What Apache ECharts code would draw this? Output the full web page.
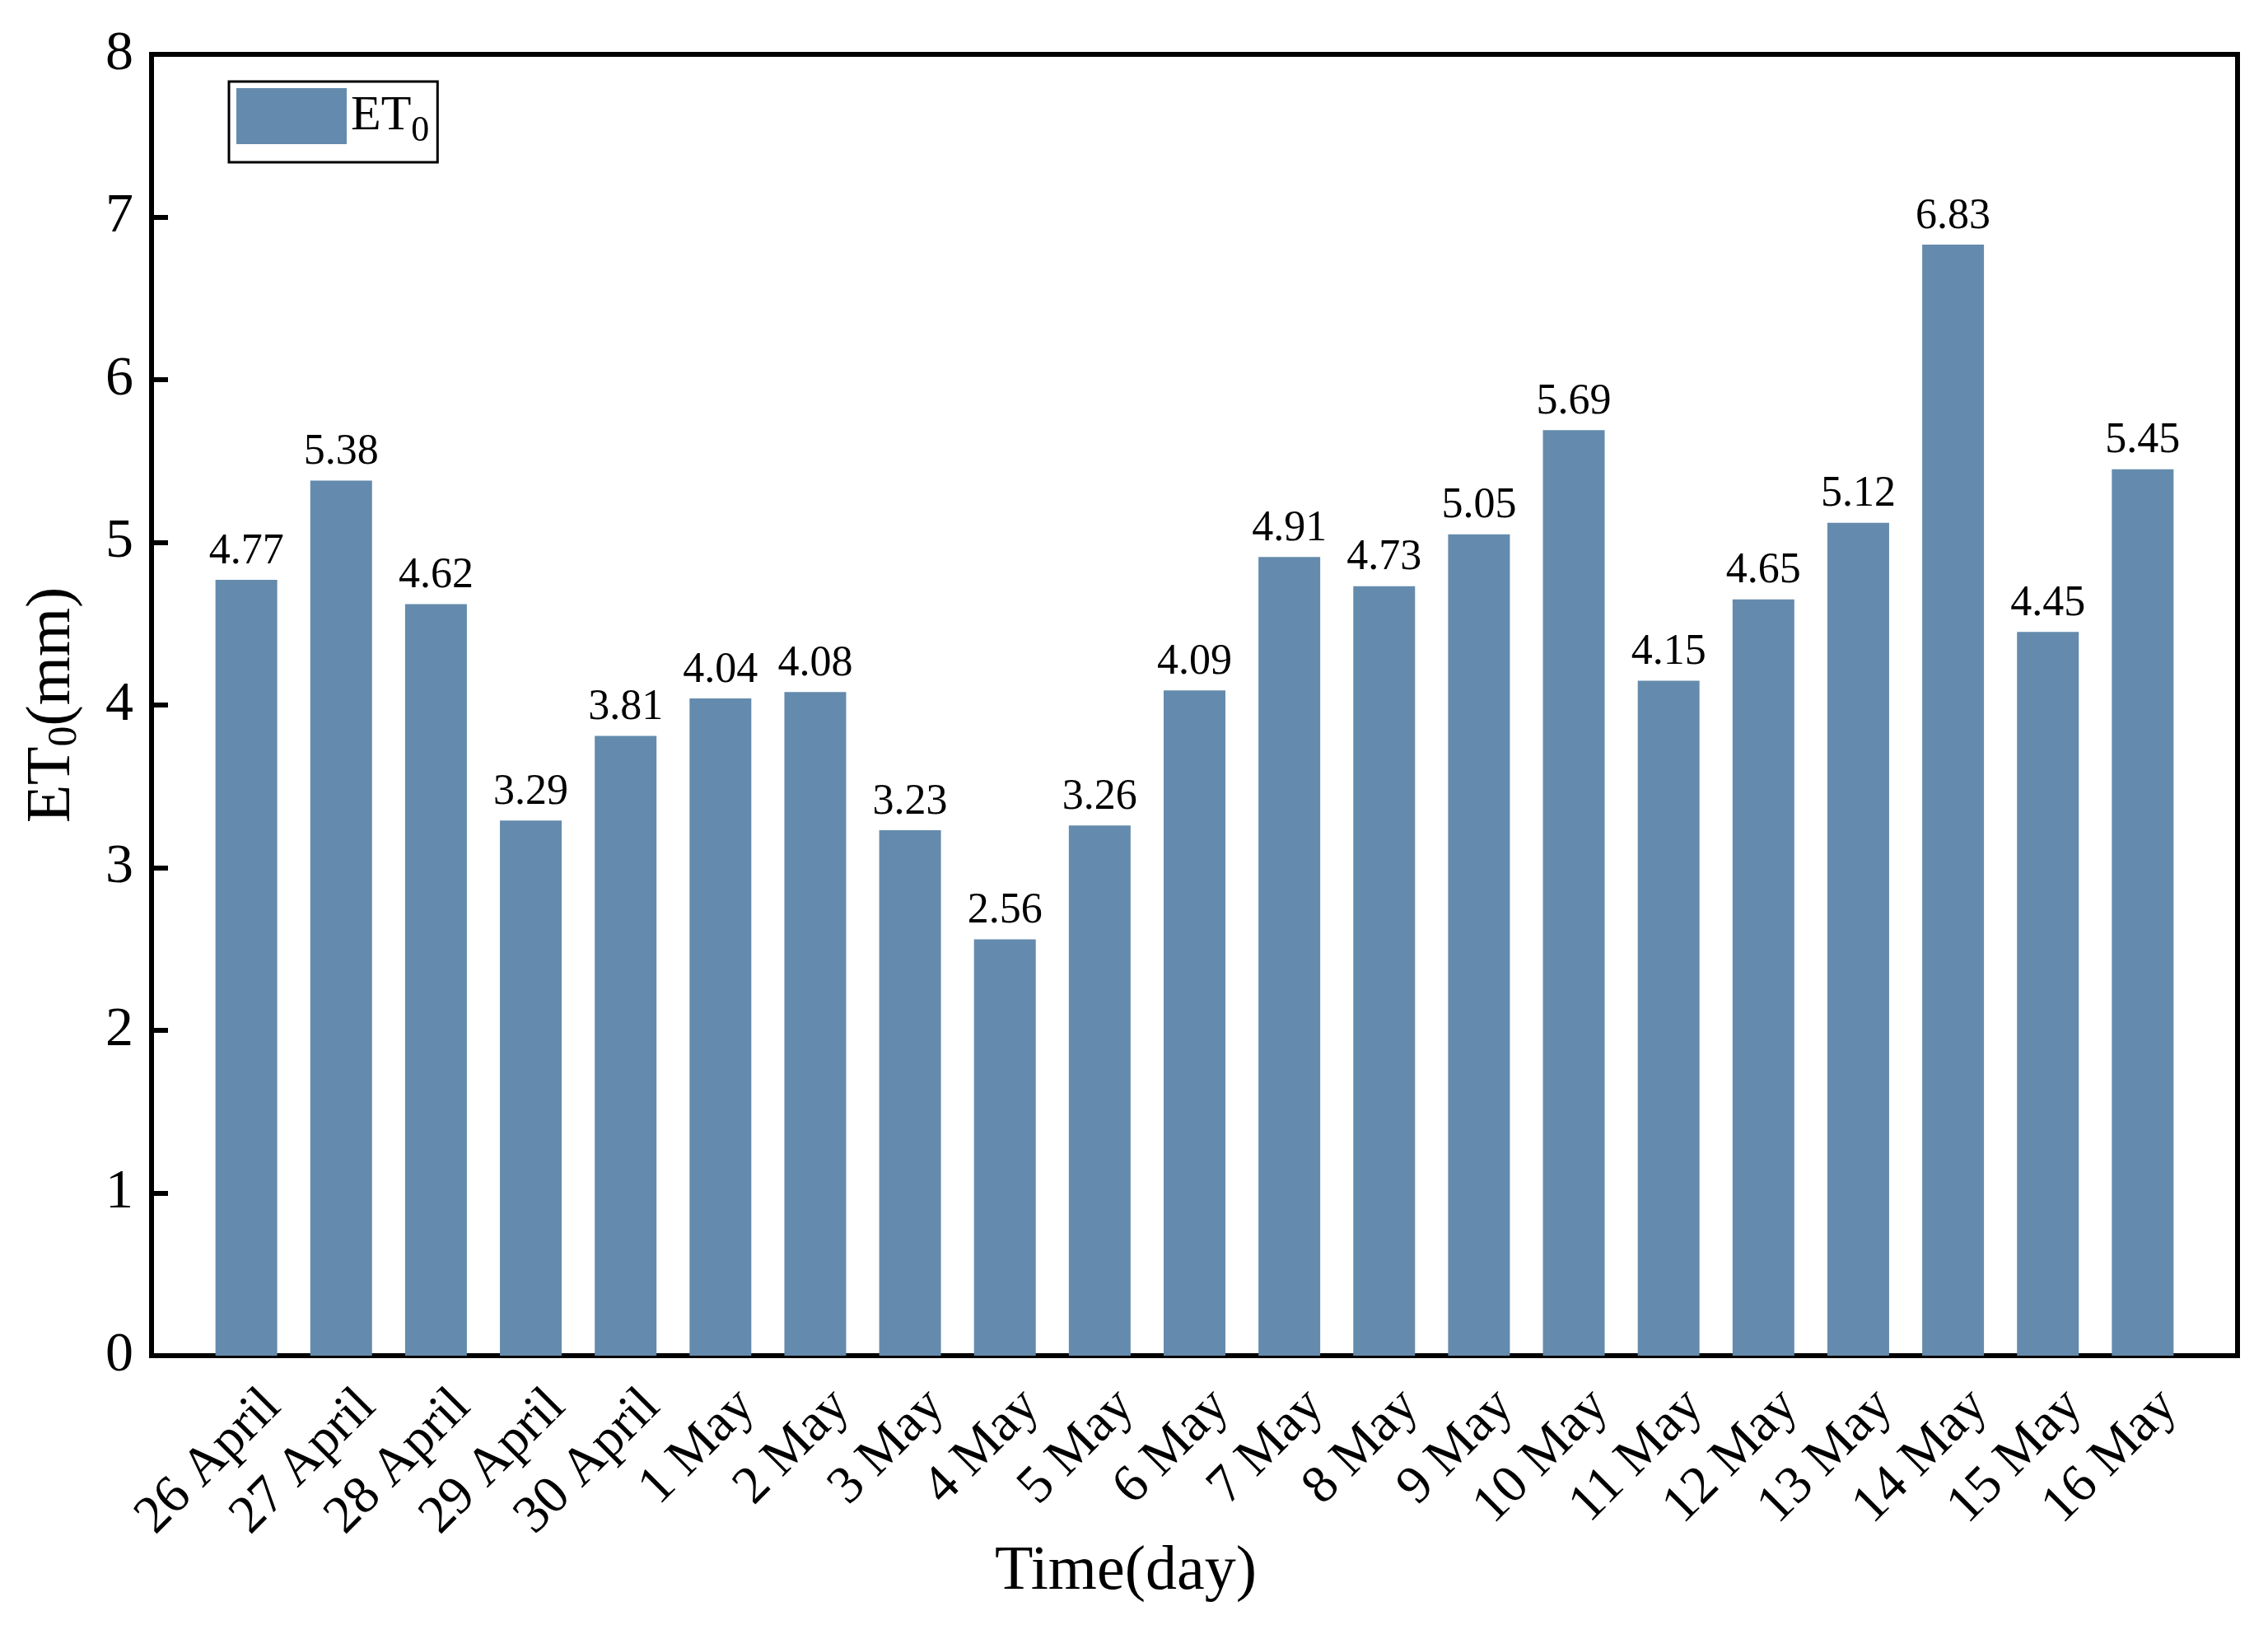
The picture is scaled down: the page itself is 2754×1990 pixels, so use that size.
<!DOCTYPE html>
<html>
<head>
<meta charset="utf-8">
<script src="https://cdn.jsdelivr.net/npm/echarts@6/dist/echarts.min.js"></script>
<style>html,body{margin:0;padding:0;background:#fff;}#c{width:2754px;height:1990px;}</style>
</head>
<body>
<div id="c"></div>
<script>
const days = ['26 April','27 April','28 April','29 April','30 April','1 May','2 May','3 May','4 May','5 May','6 May','7 May','8 May','9 May','10 May','11 May','12 May','13 May','14 May','15 May','16 May'];
const et0 = [4.77,5.38,4.62,3.29,3.81,4.04,4.08,3.23,2.56,3.26,4.09,4.91,4.73,5.05,5.69,4.15,4.65,5.12,6.83,4.45,5.45];
const yTicks = [0,1,2,3,4,5,6,7,8];

const FONT = '"Liberation Serif", "Times New Roman", serif';
const axisCats = [''].concat(days, ['']);
const seriesData = [null].concat(et0, [null]);

const chart = echarts.init(document.getElementById('c'));
chart.setOption({
  backgroundColor: '#fff',
  animation: false,
  textStyle: {fontFamily: FONT, color: '#000'},
  grid: {left: 184, right: 37, top: 66, bottom: 344, show: true, borderColor: '#000', borderWidth: 6, containLabel: false},
  title: {
    text: 'Time(day)', left: 1362, top: 1866, textAlign: 'center',
    textStyle: {fontFamily: FONT, fontSize: 76, fontWeight: 'normal', color: '#000'}
  },
  legend: {
    left: 278, top: 99, orient: 'vertical',
    itemWidth: 134, itemHeight: 68, itemGap: 0,
    padding: [8, 10, 16, 9],
    borderColor: '#000', borderWidth: 3,
    icon: 'rect',
    formatter: function(){ return '{a|ET}{s|0}'; },
    textStyle: {
      fontFamily: FONT, color: '#000', padding: [0,0,0,0],
      rich: {
        a: {fontFamily: FONT, fontSize: 60, color: '#000'},
        s: {fontFamily: FONT, fontSize: 44, color: '#000', padding: [36,0,0,0]}
      }
    },
    data: ['ET0']
  },
  xAxis: {
    type: 'category', data: axisCats, boundaryGap: false,
    axisLine: {show: true, lineStyle: {color: '#000', width: 6}},
    axisTick: {show: false},
    splitLine: {show: false},
    axisLabel: {
      rotate: 45, interval: 0, margin: 20, fontSize: 65, lineHeight: 90, fontFamily: FONT, color: '#000',
      align: 'right', verticalAlign: 'top'
    }
  },
  yAxis: {
    type: 'value', min: 0, max: 8, interval: 1,
    axisLine: {show: true, lineStyle: {color: '#000', width: 6}},
    axisTick: {show: true, inside: true, length: 20, lineStyle: {color: '#000', width: 6}},
    splitLine: {show: false},
    axisLabel: {fontSize: 68, fontFamily: FONT, color: '#000', margin: 22,
      formatter: function(v){ return yTicks.indexOf(v) >= 0 ? String(v) : ''; }},
    name: '{a|ET}{s|0}{a|(mm)}', nameLocation: 'middle', nameGap: 80, nameRotate: 90,
    nameTextStyle: {
      fontFamily: FONT, color: '#000',
      rich: {
        a: {fontFamily: FONT, fontSize: 76, color: '#000'},
        s: {fontFamily: FONT, fontSize: 50, color: '#000', padding: [30,0,0,0]}
      }
    }
  },
  series: [{
    name: 'ET0', type: 'bar', data: seriesData, barWidth: 75,
    itemStyle: {color: '#648bad'},
    label: {show: true, position: 'top', distance: 8, fontSize: 52, fontFamily: FONT, color: '#000',
      formatter: function(p){ return p.value == null ? '' : p.value.toFixed(2); }}
  }]
});
</script>
</body>
</html>
